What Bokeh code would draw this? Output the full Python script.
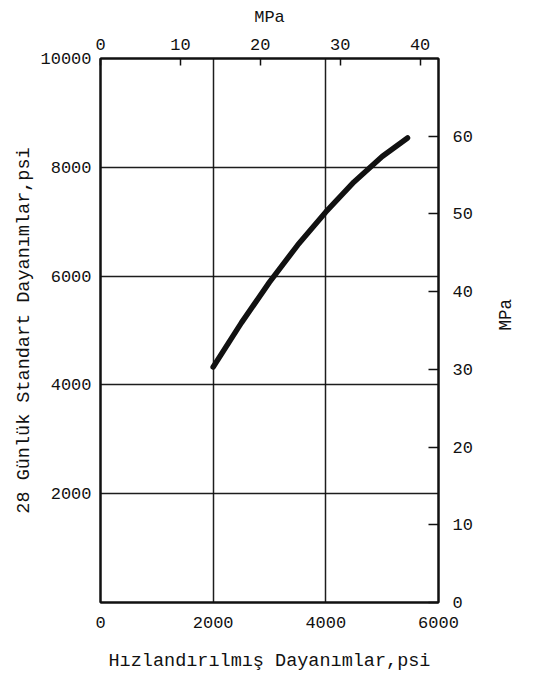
import math
from bokeh.plotting import figure
from bokeh.models import Range1d, LinearAxis, FixedTicker
from bokeh.embed import file_html
from bokeh.resources import INLINE

# Data (psi)
accel_psi = [2000, 2500, 3000, 3500, 4000, 4500, 5000, 5450]
std28_psi = [4330, 5140, 5890, 6570, 7180, 7730, 8200, 8540]

x_ticks_psi = [0, 2000, 4000, 6000]
y_ticks_psi = [2000, 4000, 6000, 8000, 10000]
top_ticks_mpa = [0, 10, 20, 30, 40]
right_ticks_mpa = [0, 10, 20, 30, 40, 50, 60]

FONT = "Liberation Mono"
INK = "#111111"

p = figure(width=530, height=676,
           x_range=Range1d(0, 6000), y_range=Range1d(0, 10000),
           output_backend="svg", toolbar_location=None,
           min_border_left=100, min_border_right=92,
           min_border_top=58, min_border_bottom=74)

p.extra_x_ranges = {"mpa_x": Range1d(0, 42.3)}
p.extra_y_ranges = {"mpa_y": Range1d(0, 70.0)}

p.outline_line_color = INK
p.outline_line_width = 2
p.background_fill_color = "white"
p.border_fill_color = "white"

# grids
p.xgrid.ticker = FixedTicker(ticks=x_ticks_psi)
p.ygrid.ticker = FixedTicker(ticks=y_ticks_psi)
for g in (p.xgrid, p.ygrid):
    g.grid_line_color = INK
    g.grid_line_width = 1.5
    g.grid_line_alpha = 0.95

def style_axis(ax):
    ax.axis_line_color = INK
    ax.axis_line_width = 2
    ax.major_tick_line_color = INK
    ax.major_tick_line_width = 1.5
    ax.minor_tick_line_color = None
    ax.major_label_text_font = FONT
    ax.major_label_text_font_size = "17px"
    ax.major_label_text_color = INK
    ax.axis_label_text_font = FONT
    ax.axis_label_text_font_size = "18.5px"
    ax.axis_label_text_font_style = "normal"
    ax.axis_label_text_color = INK

xa = p.xaxis[0]
xa.ticker = FixedTicker(ticks=x_ticks_psi)
xa.axis_label = "Hızlandırılmış Dayanımlar,psi"
style_axis(xa)
xa.major_tick_in = 0
xa.major_tick_out = 0
xa.major_label_standoff = 14
xa.axis_label_standoff = 20

ya = p.yaxis[0]
ya.ticker = FixedTicker(ticks=y_ticks_psi)
ya.axis_label = "28 Günlük Standart Dayanımlar,psi"
style_axis(ya)
ya.major_tick_in = 0
ya.major_tick_out = 0
ya.major_label_standoff = 9
ya.axis_label_standoff = 2

top = LinearAxis(x_range_name="mpa_x", ticker=FixedTicker(ticks=top_ticks_mpa),
                 axis_label="MPa")
style_axis(top)
top.axis_label_text_font_size = "17px"
top.major_tick_in = 7
top.major_tick_out = 0
top.major_label_standoff = 9
top.axis_label_standoff = 9
p.add_layout(top, "above")

right = LinearAxis(y_range_name="mpa_y", ticker=FixedTicker(ticks=right_ticks_mpa),
                   axis_label="MPa")
style_axis(right)
right.axis_label_text_font_size = "17.5px"
right.major_tick_in = 10
right.major_tick_out = 0
right.major_label_standoff = 14
right.axis_label_standoff = 30
if hasattr(right, "axis_label_orientation"):
    right.axis_label_orientation = math.pi / 2
p.add_layout(right, "right")

p.line(accel_psi, std28_psi, line_width=5.5, line_color=INK, line_cap="round")

open("out.html", "w").write(file_html(p, INLINE))
